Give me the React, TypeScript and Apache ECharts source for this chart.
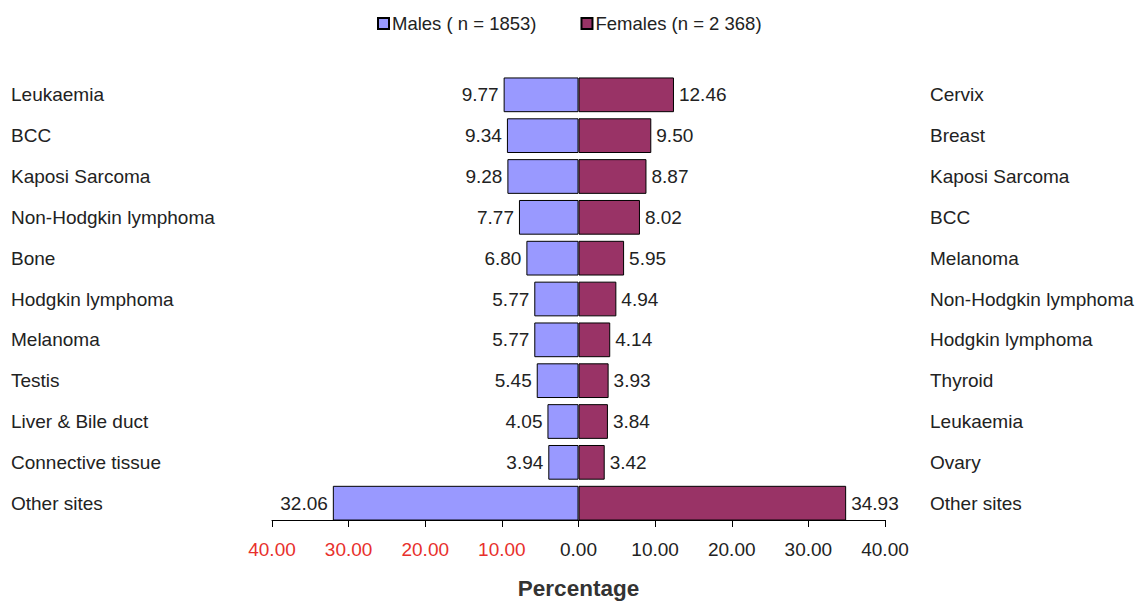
import React, { useEffect, useRef } from "react";
import * as echarts from "echarts";

const maleSites = ["Leukaemia", "BCC", "Kaposi Sarcoma", "Non-Hodgkin lymphoma", "Bone", "Hodgkin lymphoma", "Melanoma", "Testis", "Liver & Bile duct", "Connective tissue", "Other sites"];
const femaleSites = ["Cervix", "Breast", "Kaposi Sarcoma", "BCC", "Melanoma", "Non-Hodgkin lymphoma", "Hodgkin lymphoma", "Thyroid", "Leukaemia", "Ovary", "Other sites"];
const maleValues = [9.77, 9.34, 9.28, 7.77, 6.8, 5.77, 5.77, 5.45, 4.05, 3.94, 32.06];
const femaleValues = [12.46, 9.5, 8.87, 8.02, 5.95, 4.94, 4.14, 3.93, 3.84, 3.42, 34.93];
const xTicks = { min: -40, max: 40, interval: 10 };

const FONT = "Liberation Sans, Arial, sans-serif";

export default function App() {
  const ref = useRef<HTMLDivElement>(null);
  useEffect(() => {
    const chart = echarts.init(ref.current!, null, { renderer: "svg" });
    chart.setOption({
      animation: false,
      textStyle: { fontFamily: FONT },
      legend: {
        top: 1,
        left: 364,
        itemWidth: 11,
        itemHeight: 11,
        itemGap: 44,
        icon: "rect",
        textStyle: { fontSize: 18.5, color: "#222", fontFamily: FONT, padding: [0, 0, 0, -2] },
        data: ["Males ( n = 1853)", "Females (n = 2 368)"],
      },
      grid: { left: 263, right: 254, top: 66.4, bottom: 77.4, containLabel: false },
      xAxis: {
        type: "value",
        min: xTicks.min,
        max: xTicks.max,
        interval: xTicks.interval,
        offset: -3.6,
        name: "Percentage",
        nameLocation: "middle",
        nameGap: 57,
        nameTextStyle: { fontSize: 22.5, fontWeight: "bold", color: "#333", fontFamily: FONT },
        splitLine: { show: false },
        axisLine: { show: true, lineStyle: { color: "#000", width: 1 } },
        axisTick: { show: true, length: 7, lineStyle: { color: "#000" } },
        axisLabel: {
          fontSize: 19,
          margin: 20,
          fontFamily: FONT,
          formatter: (v: number) => Math.abs(v).toFixed(2),
          color: (v: any) => (Number(v) < 0 ? "#e8302c" : "#222"),
        },
      },
      yAxis: [
        {
          type: "category",
          inverse: true,
          data: maleSites,
          position: "left",
          axisLine: { show: false },
          axisTick: { show: false },
          axisLabel: { align: "left", margin: 261, fontSize: 19, color: "#222", fontFamily: FONT },
        },
        {
          type: "category",
          inverse: true,
          data: femaleSites,
          position: "right",
          axisLine: { show: false },
          axisTick: { show: false },
          axisLabel: { align: "left", margin: 45, fontSize: 19, color: "#222", fontFamily: FONT },
        },
      ],
      series: [
        {
          name: "Males ( n = 1853)",
          type: "bar",
          yAxisIndex: 0,
          data: maleValues.map((v) => -v),
          barWidth: "85%",
          barGap: "-100%",
          itemStyle: { color: "#9999ff", borderColor: "#000", borderWidth: 1 },
          label: {
            show: true,
            position: "left",
            distance: 5,
            fontSize: 19,
            color: "#222",
            fontFamily: FONT,
            formatter: (p: any) => Math.abs(p.value).toFixed(2),
          },
        },
        {
          name: "Females (n = 2 368)",
          type: "bar",
          yAxisIndex: 0,
          data: femaleValues,
          barWidth: "85%",
          barGap: "-100%",
          itemStyle: { color: "#993366", borderColor: "#000", borderWidth: 1 },
          label: {
            show: true,
            position: "right",
            distance: 5,
            fontSize: 19,
            color: "#222",
            fontFamily: FONT,
            formatter: (p: any) => Number(p.value).toFixed(2),
          },
        },
      ],
    });
    return () => chart.dispose();
  }, []);
  return <div ref={ref} style={{ width: 1131, height: 597 }} />;
}
